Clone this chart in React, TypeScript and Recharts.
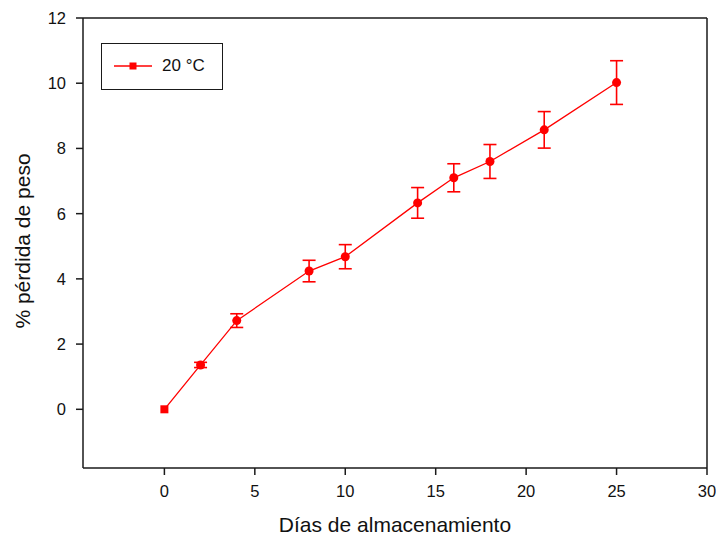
import React from 'react';
import { ComposedChart, Line, XAxis, YAxis, ErrorBar, ReferenceLine } from 'recharts';

const days = [0, 2, 4, 8, 10, 14, 16, 18, 21, 25];
const weightLoss = [0, 1.36, 2.72, 4.24, 4.68, 6.33, 7.1, 7.6, 8.57, 10.02];
const errors = [0, 0.08, 0.21, 0.33, 0.37, 0.47, 0.43, 0.52, 0.56, 0.67];
const xTicks = [0, 5, 10, 15, 20, 25, 30];
const yTicks = [0, 2, 4, 6, 8, 10, 12];
const seriesName = '20 °C';

const data = days.map((d, i) => ({ day: d, loss: weightLoss[i], err: errors[i] }));

const FONT = '"Liberation Sans", Arial, sans-serif';
const RED = '#ff0000';
const AXIS = '#1a1a1a';

const Dot = (props: any) => {
  const { cx, cy, index } = props;
  if (cx == null || cy == null) return null;
  if (index === 0) {
    return <rect key={`d${index}`} x={cx - 4} y={cy - 4} width={8} height={8} fill={RED} />;
  }
  return <circle key={`d${index}`} cx={cx} cy={cy} r={4.5} fill={RED} />;
};

const LegendBox = () => (
  <div
    style={{
      position: 'absolute',
      left: 101,
      top: 43,
      width: 122,
      height: 47,
      border: `1.5px solid ${AXIS}`,
      boxSizing: 'border-box',
      background: '#fff',
      fontFamily: FONT,
    }}
  >
    <svg width={60} height={45} style={{ position: 'absolute', left: 0, top: 0 }}>
      <line x1={12} x2={50} y1={22} y2={22} stroke={RED} strokeWidth={1.3} />
      <rect x={27.5} y={18.5} width={7} height={7} fill={RED} />
    </svg>
    <span
      style={{
        position: 'absolute',
        left: 60,
        top: 12,
        fontSize: 17,
        color: '#111',
        lineHeight: '20px',
      }}
    >
      {seriesName}
    </span>
  </div>
);

const XLabel = () => (
  <text x={395} y={532} textAnchor="middle" fontFamily={FONT} fontSize={21} fill="#111">
    Días de almacenamiento
  </text>
);

const YLabel = () => (
  <text
    x={22}
    y={241}
    transform="rotate(-90 22 241)"
    textAnchor="middle"
    dominantBaseline="central"
    fontFamily={FONT}
    fontSize={21}
    fill="#111"
  >
    % pérdida de peso
  </text>
);

export default function App() {
  return (
    <div style={{ position: 'absolute', left: 0, top: 0, width: 716, height: 543, background: '#fff' }}>
      <ComposedChart
        width={716}
        height={543}
        data={data}
        margin={{ top: 18, right: 9, bottom: 0, left: 0 }}
      >
        <XAxis
          dataKey="day"
          type="number"
          domain={[-4.5, 30]}
          ticks={xTicks}
          allowDataOverflow
          height={75}
          tickSize={7}
          tickMargin={10}
          stroke={AXIS}
          strokeWidth={1.5}
          tick={{ fill: '#111', fontSize: 16.5, fontFamily: FONT }}
          tickLine={{ stroke: AXIS, strokeWidth: 1.5 }}
          label={<XLabel />}
        />
        <YAxis
          type="number"
          domain={[-1.8, 12]}
          ticks={yTicks}
          allowDataOverflow
          width={83}
          tickSize={7}
          tickMargin={10}
          stroke={AXIS}
          strokeWidth={1.5}
          tick={{ fill: '#111', fontSize: 16.5, fontFamily: FONT }}
          tickLine={{ stroke: AXIS, strokeWidth: 1.5 }}
          label={<YLabel />}
        />
        <ReferenceLine y={12} stroke={AXIS} strokeWidth={1.5} />
        <ReferenceLine x={30} stroke={AXIS} strokeWidth={1.5} />
        <Line
          dataKey="loss"
          name={seriesName}
          stroke={RED}
          strokeWidth={1.3}
          dot={Dot}
          activeDot={false}
          isAnimationActive={false}
        >
          <ErrorBar dataKey="err" width={6.5} stroke={RED} strokeWidth={1.6} direction="y" isAnimationActive={false} />
        </Line>
      </ComposedChart>
      <LegendBox />
    </div>
  );
}
